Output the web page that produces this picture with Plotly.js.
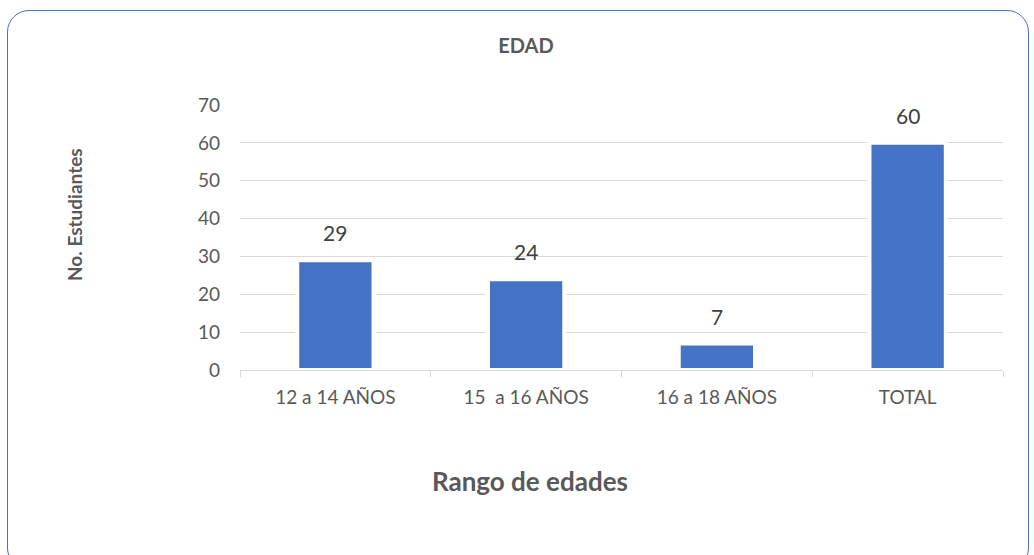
<!DOCTYPE html>
<html>
<head>
<meta charset="utf-8">
<script src="https://cdn.plot.ly/plotly-3.0.1.min.js"></script>
<style>
  html, body { margin: 0; padding: 0; background: #fff; }
  #wrap { position: relative; width: 1034px; height: 555px; overflow: hidden; }
  #frame { position: absolute; left: 7px; top: 10px; width: 1022px; height: 560px;
           border: 1.3px solid #4472C4; border-radius: 22px; box-sizing: border-box; pointer-events: none; }
  #chart { position: absolute; left: 0; top: 0; width: 1034px; height: 555px; }
</style>
</head>
<body>
<div id="wrap">
  <div id="chart"></div>
  <div id="frame"></div>
</div>
<script>
const categories = ["12 a 14 AÑOS", "15  a 16 AÑOS", "16 a 18 AÑOS", "TOTAL"];
const students = [29, 24, 7, 60];
const chartTitle = "EDAD";
const xTitle = "Rango de edades";
const yTitle = "No. Estudiantes";

const FONT = "Lato, 'Open Sans', sans-serif";

const W = 1034, H = 555;
const M = { l: 240, r: 31, t: 105, b: 185 };
const plotW = W - M.l - M.r, plotH = H - M.t - M.b;

const trace = {
  type: "bar",
  x: categories,
  y: students,
  width: 0.4,
  marker: { color: "#4472C4", line: { color: "#ffffff", width: 4 } },
  hoverinfo: "x+y"
};

// data labels placed above each bar from the data values
const labelAnns = categories.map((c, i) => ({
  x: c, y: students[i], xref: "x", yref: "y",
  text: String(students[i]),
  showarrow: false,
  yanchor: "bottom",
  yshift: 13,
  font: { family: FONT, size: 21, color: "#404040" }
}));

const titleAnns = [
  {
    text: "<b>" + xTitle + "</b>",
    xref: "paper", yref: "paper",
    x: (530 - M.l) / plotW, y: (H - M.b - 481) / plotH,
    xanchor: "center", yanchor: "middle", showarrow: false,
    font: { family: FONT, size: 26, color: "#595959" }
  },
  {
    text: "<b>" + yTitle + "</b>",
    xref: "paper", yref: "paper",
    x: (74 - M.l) / plotW, y: (H - M.b - 215) / plotH,
    xanchor: "center", yanchor: "middle", textangle: -90, showarrow: false,
    font: { family: FONT, size: 19, color: "#595959" }
  }
];

const layout = {
  width: W,
  height: H,
  paper_bgcolor: "rgba(0,0,0,0)",
  plot_bgcolor: "rgba(0,0,0,0)",
  margin: M,
  showlegend: false,
  font: { family: FONT, color: "#595959" },
  title: {
    text: "<b>" + chartTitle + "</b>",
    font: { family: FONT, size: 20, color: "#595959" },
    x: 526 / W, xanchor: "center", xref: "container",
    y: 1 - 45.5 / H, yanchor: "middle", yref: "container"
  },
  xaxis: {
    type: "category",
    showgrid: false,
    showline: true,
    linecolor: "#D9D9D9",
    linewidth: 1,
    ticks: "outside",
    tickson: "boundaries",
    ticklen: 6,
    tickcolor: "#D9D9D9",
    ticklabelstandoff: 10,
    tickfont: { family: FONT, size: 19, color: "#595959" },
    fixedrange: true
  },
  yaxis: {
    range: [0, 70],
    dtick: 10,
    showgrid: true,
    gridcolor: "#D9D9D9",
    gridwidth: 1,
    zeroline: false,
    showline: false,
    ticks: "",
    ticklabelstandoff: 19,
    tickfont: { family: FONT, size: 19, color: "#595959" },
    fixedrange: true
  },
  annotations: labelAnns.concat(titleAnns)
};

Plotly.newPlot("chart", [trace], layout, { displayModeBar: false, staticPlot: true });
</script>
</body>
</html>
